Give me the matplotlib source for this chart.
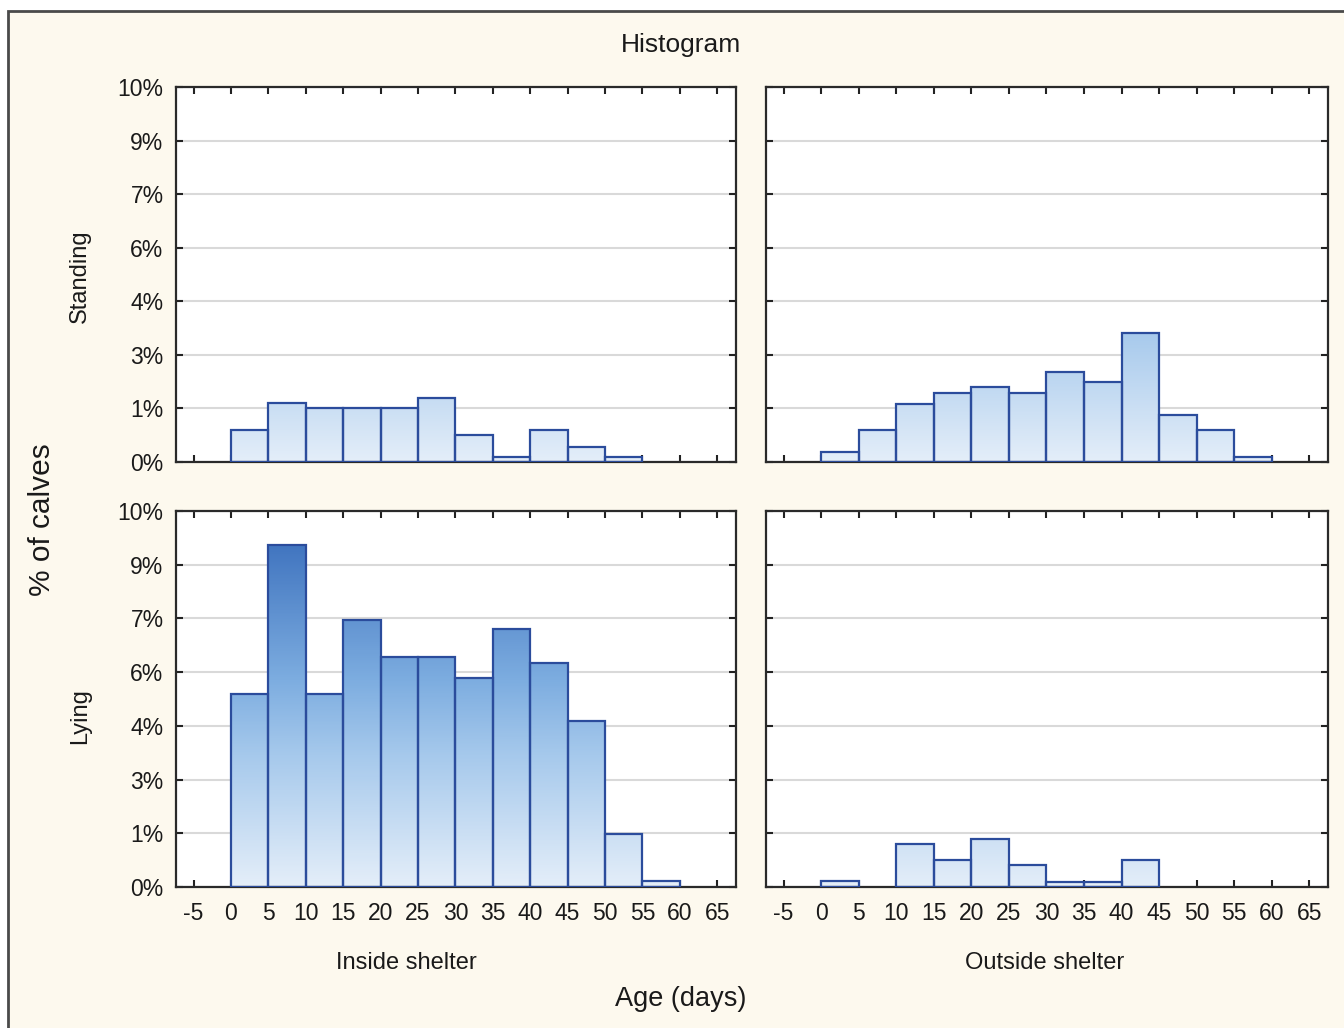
import numpy as np
import matplotlib
matplotlib.use("Agg")
import matplotlib.pyplot as plt
from matplotlib.colors import LinearSegmentedColormap
from matplotlib.patches import Rectangle

# ---------------- data ----------------
bin_left = [0, 5, 10, 15, 20, 25, 30, 35, 40, 45, 50, 55]
bin_width = 5
standing_inside = [0.86, 1.57, 1.43, 1.43, 1.43, 1.70, 0.71, 0.14, 0.86, 0.41, 0.14, 0.0]
standing_outside = [0.27, 0.85, 1.56, 1.83, 2.00, 1.83, 2.40, 2.14, 3.43, 1.25, 0.85, 0.14]
lying_inside = [5.12, 9.10, 5.12, 7.11, 6.13, 6.13, 5.57, 6.85, 5.96, 4.42, 1.42, 0.15]
lying_outside = [0.15, 0.0, 1.15, 0.71, 1.28, 0.58, 0.13, 0.13, 0.71, 0.0, 0.0, 0.0]
x_ticks = list(range(-5, 70, 5))
y_ticks = list(np.linspace(0, 10, 8))
row_labels = ["Standing", "Lying"]
col_labels = ["Inside shelter", "Outside shelter"]
title = "Histogram"
x_title = "Age (days)"
y_title = "% of calves"

plt.rcParams['font.family'] = ['Liberation Sans', 'DejaVu Sans']

W, H = 1344, 1028
fig = plt.figure(figsize=(W / 100, H / 100), dpi=100, facecolor='white')

# cream frame (background axes)
bg = fig.add_axes([0, 0, 1, 1], zorder=-10)
bg.set_xlim(0, W)
bg.set_ylim(H, 0)
bg.axis('off')
bg.add_patch(Rectangle((8, 11), W + 20, H + 20, facecolor='#fdf9ee',
                       edgecolor='#4a4a4a', linewidth=2))

cmap = LinearSegmentedColormap.from_list(
    "bargrad", [(0.0, '#e4eef9'), (0.35, '#a6c9ec'), (0.55, '#7dade0'),
                (0.9, '#4377c1'), (1.0, '#386ab6')])

def px_rect(l, t, r, b):
    return [l / W, 1 - b / H, (r - l) / W, (b - t) / H]

rects = [[px_rect(176, 87, 736, 462), px_rect(766, 87, 1328, 462)],
         [px_rect(176, 511, 736, 887), px_rect(766, 511, 1328, 887)]]
data = [[standing_inside, standing_outside], [lying_inside, lying_outside]]

edge_col = '#2b4c9c'
for r in range(2):
    for c in range(2):
        ax = fig.add_axes(rects[r][c], zorder=1)
        ax.set_facecolor('white')
        vals = data[r][c]
        lefts = [l for l, h in zip(bin_left, vals) if h > 0]
        heights = [h for h in vals if h > 0]
        for left, h in zip(lefts, heights):
            grad = np.linspace(0, h, 200).reshape(-1, 1)
            ax.imshow(grad, extent=[left, left + bin_width, 0, h], origin='lower',
                      cmap=cmap, vmin=0, vmax=10, aspect='auto', zorder=2,
                      interpolation='bilinear')
        ax.bar(lefts, heights, width=bin_width, align='edge', fill=False,
               edgecolor=edge_col, linewidth=1.6, zorder=3)
        ax.set_xlim(-7.35, 67.5)
        ax.set_ylim(0, 10)
        ax.set_xticks(x_ticks)
        ax.set_yticks(y_ticks)
        ax.yaxis.grid(True, color='#d9d9d9', linewidth=1.5, zorder=1)
        ax.set_axisbelow(True)
        ax.tick_params(axis='both', direction='in', length=5, width=1.5,
                       color='#222222', top=True, right=True, labelsize=16.5,
                       labelcolor='#1a1a1a')
        ax.tick_params(axis='x', pad=11)
        ax.tick_params(axis='y', pad=9)
        if r == 1:
            ax.set_xticklabels([str(v) for v in x_ticks])
        else:
            ax.set_xticklabels([])
        if c == 0:
            ax.set_yticklabels([f"{v:.0f}%" for v in y_ticks])
        else:
            ax.set_yticklabels([])
        for s in ax.spines.values():
            s.set_color('#2a2a2a')
            s.set_linewidth(1.6)

fig.text(681 / W, 1 - 45 / H, title, ha='center', va='center', fontsize=19, color='#1a1a1a')
fig.text(80 / W, 1 - 276 / H, row_labels[0], rotation=90, ha='center', va='center', fontsize=17, color='#1a1a1a')
fig.text(80 / W, 1 - 716 / H, row_labels[1], rotation=90, ha='center', va='center', fontsize=17, color='#1a1a1a')
fig.text(42 / W, 1 - 520 / H, y_title, rotation=90, ha='center', va='center', fontsize=21.5, color='#1a1a1a')
fig.text(406 / W, 1 - 963 / H, col_labels[0], ha='center', va='center', fontsize=17, color='#1a1a1a')
fig.text(1045 / W, 1 - 963 / H, col_labels[1], ha='center', va='center', fontsize=17, color='#1a1a1a')
fig.text(681 / W, 1 - 999 / H, x_title, ha='center', va='center', fontsize=19.5, color='#1a1a1a')

fig.savefig("out.png", dpi=100, facecolor=fig.get_facecolor())
